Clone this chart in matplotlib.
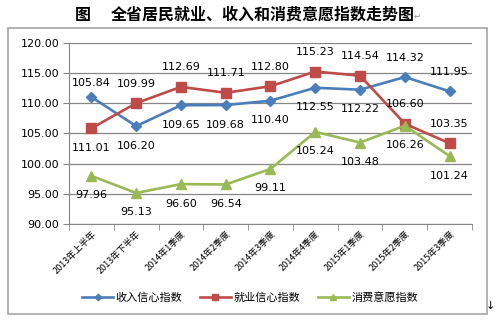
import numpy as np
import matplotlib.pyplot as plt
from matplotlib.patches import Rectangle

plt.rcParams['font.family'] = ['DejaVu Sans', 'Noto Sans CJK SC']
cjk = ['Noto Sans CJK SC', 'DejaVu Sans']

# data
categories = ['2013年上半年', '2013年下半年', '2014年1季度', '2014年2季度', '2014年3季度',
              '2014年4季度', '2015年1季度', '2015年2季度', '2015年3季度']
income = [111.01, 106.20, 109.65, 109.68, 110.40, 112.55, 112.22, 114.32, 111.95]
employ = [105.84, 109.99, 112.69, 111.71, 112.80, 115.23, 114.54, 106.60, 103.35]
consume = [97.96, 95.13, 96.60, 96.54, 99.11, 105.24, 103.48, 106.26, 101.24]
names = ['收入信心指数', '就业信心指数', '消费意愿指数']

# label placement (+ above, - below), in points
income_off = [-14, -14, -14, -14, -14, -14, -14, 14, 14]
employ_off = [10, 14, 14, 14, 14, 14, 14, 14, 14]
consume_off = [-14] * 9

fig = plt.figure(figsize=(4.95, 3.23), dpi=100)
ax = fig.add_axes([0.1394, 0.3065, 0.8141, 0.5613])

x = np.arange(len(categories))
blue, red, green = '#4A7EBB', '#BE4B48', '#98B954'
ax.plot(x, income, color=blue, lw=1.9, marker='D', ms=5.5, label=names[0], zorder=3)
ax.plot(x, employ, color=red, lw=1.9, marker='s', ms=6.5, label=names[1], zorder=3)
ax.plot(x, consume, color=green, lw=1.9, marker='^', ms=7, label=names[2], zorder=3)

# data labels (first category labels sit on the other series in the original)
for i in range(len(x)):
    yi, ye = income[i], employ[i]
    if i == 0:
        yi, ye = employ[i], income[i]
    ax.annotate(f'{income[i]:.2f}', (x[i], yi), xytext=(0, income_off[i]), textcoords='offset points',
                ha='center', va='center', fontsize=8)
    ax.annotate(f'{employ[i]:.2f}', (x[i], ye), xytext=(0, employ_off[i]), textcoords='offset points',
                ha='center', va='center', fontsize=8)
    ax.annotate(f'{consume[i]:.2f}', (x[i], consume[i]), xytext=(0, consume_off[i]), textcoords='offset points',
                ha='center', va='center', fontsize=8)

ax.set_xlim(-0.5, 8.5)
ax.set_ylim(90, 120)
ax.set_yticks(np.arange(90, 121, 5))
ax.set_yticklabels([f'{v:.2f}' for v in np.arange(90, 121, 5)], fontsize=8)
ax.yaxis.grid(True, color='#868686', lw=0.9)
ax.set_axisbelow(True)
ax.set_xticks(x)
ax.set_xticklabels(categories, rotation=45, ha='right', va='top', rotation_mode='anchor',
                   fontsize=6.5, family=cjk)
ax.set_xticks(np.arange(-0.5, 9, 1), minor=True)
ax.tick_params(axis='x', which='major', length=0, pad=4)
ax.tick_params(axis='x', which='minor', length=4, color='#868686')
ax.tick_params(axis='y', length=4, color='#868686', pad=3)
for s in ['top', 'right']:
    ax.spines[s].set_visible(False)
for s in ['left', 'bottom']:
    ax.spines[s].set_color('#868686')

leg = fig.legend(loc='center', bbox_to_anchor=(0.505, 0.08), ncol=3, frameon=False,
                 prop={'family': cjk, 'size': 8}, handlelength=2.8, columnspacing=1.6,
                 handletextpad=0.2, markerscale=0.6)

# chart border
fig.patches.append(Rectangle((8 / 495, 1 - 314 / 323), 479 / 495, 286 / 323, transform=fig.transFigure,
                             fill=False, edgecolor='#A6A6A6', lw=1.2))

fig.text(83 / 495, 1 - 15 / 323, '图', ha='center', va='center',
         fontsize=11.5, fontweight='bold', family=cjk)
fig.text(263 / 495, 1 - 15 / 323, '全省居民就业、收入和消费意愿指数走势图', ha='center', va='center',
         fontsize=11.5, fontweight='bold', family=cjk)
fig.text(414 / 495, 1 - 16 / 323, '↵', ha='left', va='center', fontsize=6, color='#888888')
fig.text(486 / 495, 1 - 306 / 323, '↓', ha='left', va='center', fontsize=8, color='black')

fig.savefig('out.png', dpi=100)
